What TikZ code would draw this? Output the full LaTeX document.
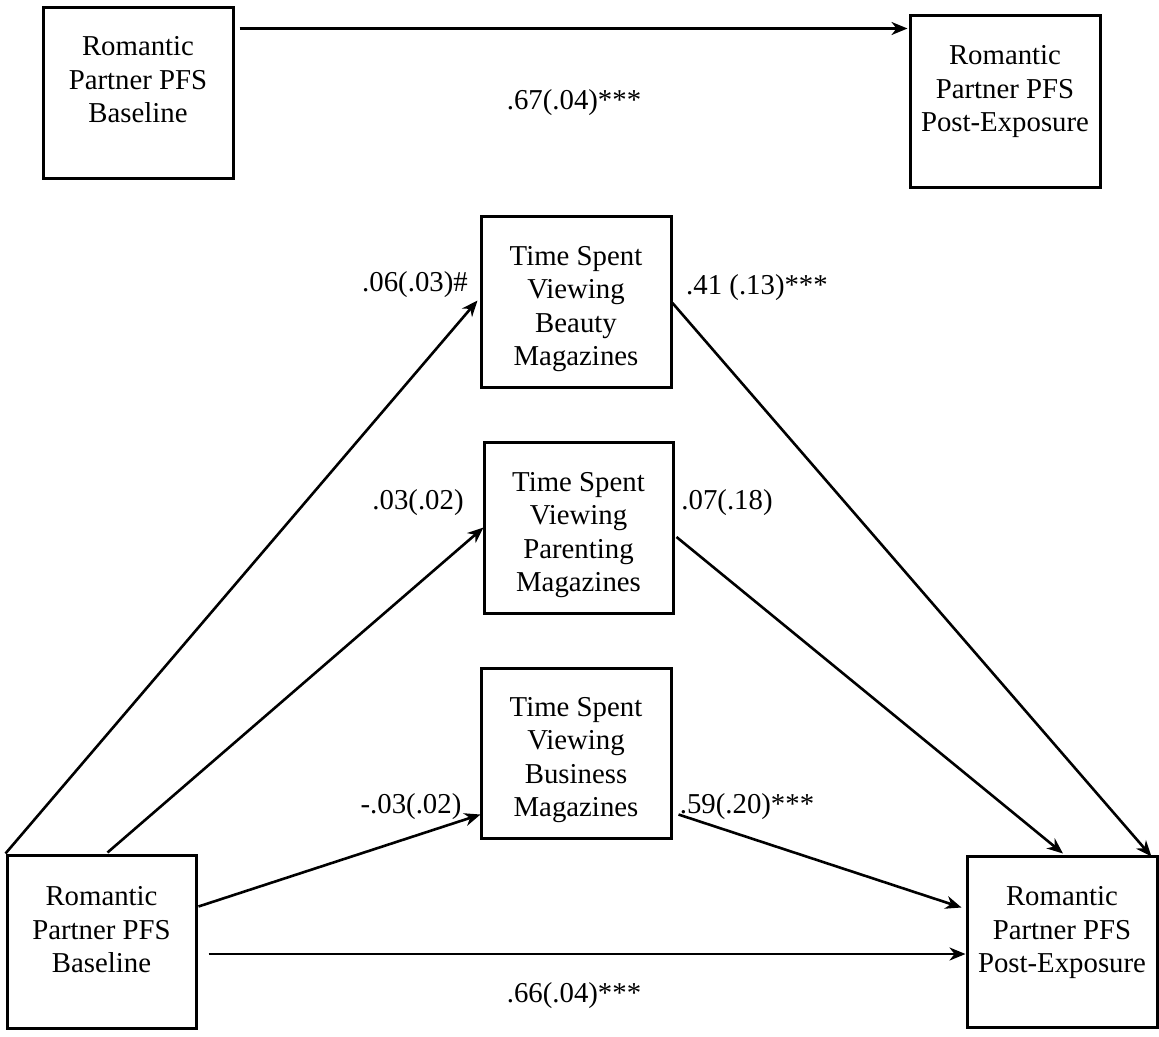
\documentclass[tikz,border=0pt]{standalone}
\usepackage{fontspec}
\setmainfont{Liberation Serif}
\usetikzlibrary{arrows.meta,calc}
\begin{document}
\begin{tikzpicture}[x=1pt,y=-1pt,
  box/.style={draw,line width=3pt,minimum width=190pt,minimum height=171pt,inner sep=0pt},
  txt/.style={align=center,inner sep=0pt,font=\fontsize{28.8}{33.5}\selectfont},
  lab/.style={inner sep=0pt,font=\fontsize{28.8}{34}\selectfont},
  arr/.style={line width=2.6pt,-{Stealth[length=16pt,width=13pt,inset=5pt]}}]
\fill[white] (0,0) rectangle (1159,1036);
\useasboundingbox (0,0) rectangle (1159,1036);
% boxes
\node[box] (tl) at (138,92.5) {};
\node[box,minimum height=172pt] (tr) at (1005,101) {};
\node[box,minimum width=189pt,minimum height=173pt] (bl) at (101.5,941.5) {};
\node[box] (br) at (1062,941.5) {};
\node[box] (beauty) at (576,301.5) {};
\node[box,minimum width=189pt] (parenting) at (578.5,527.5) {};
\node[box,minimum height=170pt] (business) at (576,753) {};
% box texts
\node[txt] (tlt) at (138,80) {Romantic\\Partner PFS\\Baseline};
\node[txt] (trt) at (1005,92) {Romantic\\Partner PFS\\Post-Exposure};
\node[txt] (blt) at (101.5,930) {Romantic\\Partner PFS\\Baseline};
\node[txt] (brt) at (1062,933) {Romantic\\Partner PFS\\Post-Exposure};
\node[txt] (beautyt) at (576,309) {Time Spent\\Viewing\\Beauty\\Magazines};
\node[txt] (parentingt) at (578.5,535) {Time Spent\\Viewing\\Parenting\\Magazines};
\node[txt] (businesst) at (576,760) {Time Spent\\Viewing\\Business\\Magazines};
% connectors
\draw[arr] ($(tl.north east)+(5,23)$) -- ($(tr.north west)+(-1,15)$);
\draw[arr] (bl.north west) -- ($(beauty.west)+(-2,-1)$);
\draw[arr] ($(bl.north)+(6,-1)$) -- ($(parenting.west)+(1,0)$);
\draw[arr] ($(bl.north east)+(1,53)$) -- ($(business.south west)+(1,-25)$);
\draw[arr] ($(bl.east)+(11,12.5)$) -- ($(br.west)+(0,12.5)$);
\draw[arr] ($(beauty.east)+(0,1.5)$) -- ($(br.north east)+(-7,2)$);
\draw[arr] ($(parenting.east)+(2,9.5)$) -- ($(br.north)+(1,-1)$);
\draw[arr] ($(business.south east)+(6,-25)$) -- ($(br.north west)+(-4,53)$);
% labels
\node[lab] (l1) at (574,103) {.67(.04)***};
\node[lab] (l2) at (415,285) {.06(.03)\#};
\node[lab] (l3) at (757,288) {.41 (.13)***};
\node[lab] (l4) at (418,503) {.03(.02)};
\node[lab] (l5) at (727,503) {.07(.18)};
\node[lab] (l6) at (411,807) {-.03(.02)};
\node[lab] (l7) at (747,807) {.59(.20)***};
\node[lab] (l8) at (574,996) {.66(.04)***};
\end{tikzpicture}
\end{document}
